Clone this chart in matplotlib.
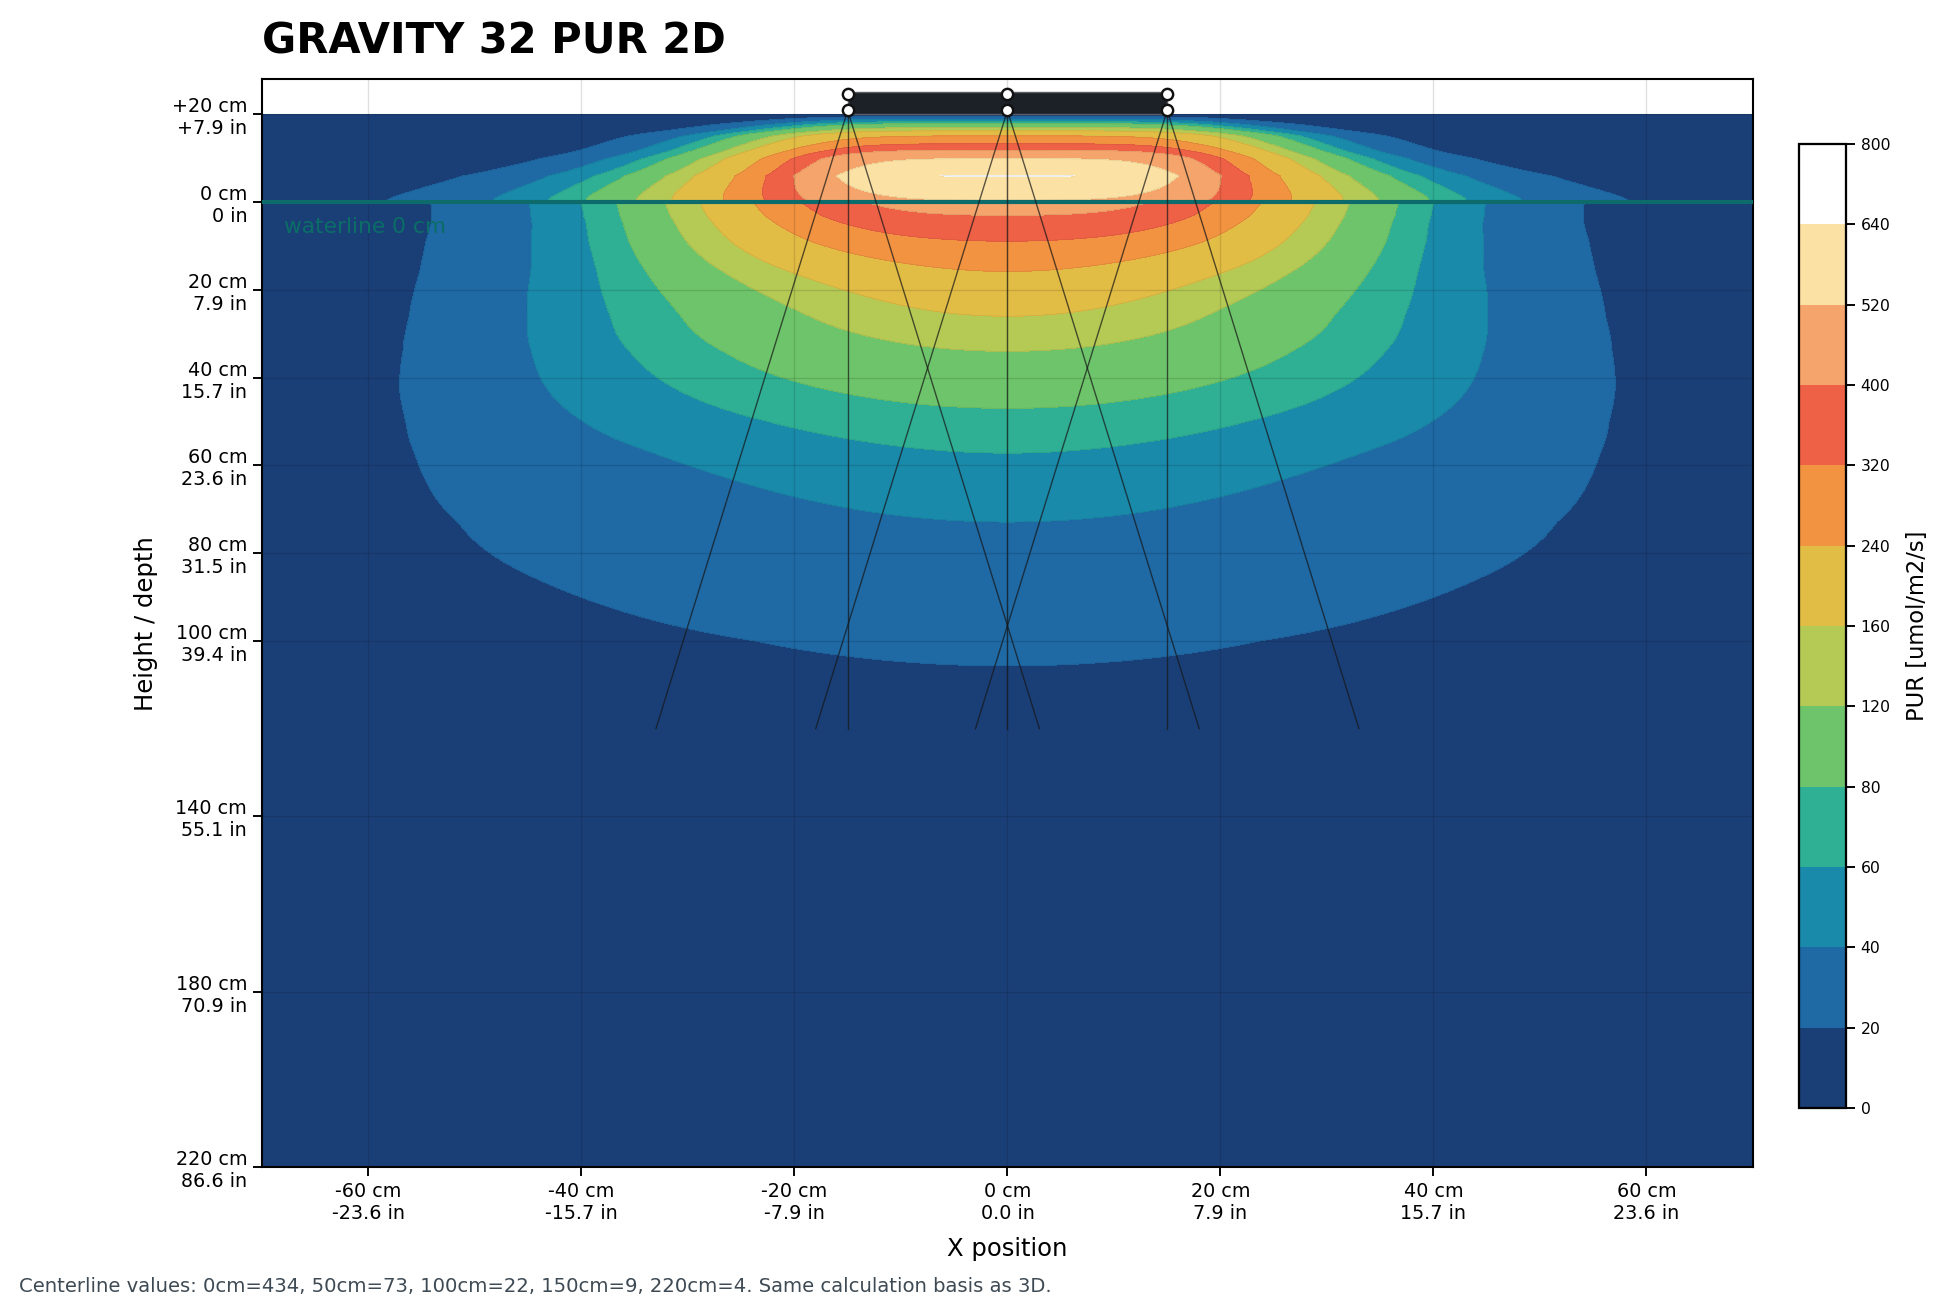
import numpy as np
import matplotlib
matplotlib.use("Agg")
import matplotlib.pyplot as plt
from matplotlib.patches import Rectangle

# ---------------- data ----------------
levels = [0, 20, 40, 60, 80, 120, 160, 240, 320, 400, 520, 640, 800]
band_colors = ["#1a3f77", "#1f69a5", "#1a8aaa", "#2fb095", "#6ec46a", "#b5c955",
               "#e2bd45", "#f19340", "#ee6146", "#f5a46b", "#fbe1a4", "#ffffff"]

# centre-line PUR above the water (depth in cm, negative = above water)
air_depth_cm = [-20, -19.5, -18.9, -18.35, -17.9, -17.0, -16.25, -15.1, -13.3, -11.8, -9.9, -6.0, -0.5, -0.02]
air_pur = [0, 20, 40, 60, 80, 120, 160, 240, 320, 400, 520, 643, 520, 510]
# centre-line PUR below the water
water_depth_cm = [0, 3, 8.9, 15.8, 26, 34, 47, 50, 57.2, 72.9, 100, 105.7, 150, 220]
water_pur = [434, 400, 320, 240, 160, 120, 80, 73, 60, 40, 22, 20, 9, 4]

air_shape_depth = [-20, -18.3, -15, -11.5, -6, -0.8, -0.02]
air_shape_a = [21, 21.3, 22.1, 22.3, 22.5, 25.6, 25.8]
air_shape_q = [6, 5, 5, 5, 4.2, 3.93, 3.9]
water_shape_depth = [0, 10, 20, 30, 40, 50, 60, 70, 80, 90, 100, 150, 220]
water_coef_x2 = [0, 5.08e-4, 1.25e-3, 7.45e-4, 5.214e-4, 3.99e-4, 4.39e-4, 3.85e-4, 2.95e-4, 2.3e-4, 1.72e-4, 1e-4, 5e-5]
water_coef_x4 = [2.517e-6, 1.3786e-6, 0, 0, 0, 0, 0, 0, 0, 0, 0, 0, 0]
water_coef_x6 = [0, 0, 1.653e-10, 1.01e-10, 6.23e-11, 4.06e-11, 1.53e-11, 3e-12, 0, 0, 0, 0, 0]

fixture_x = [-15, 0, 15]
fixture_top, fixture_bottom = -25.15, -20.2
node_rows = [-24.6, -20.9]
beam_offsets = [-18, 0, 18]
beam_end_depth = 120

x_ticks = [-60, -40, -20, 0, 20, 40, 60]
x_ticklabels = ["-60 cm\n-23.6 in", "-40 cm\n-15.7 in", "-20 cm\n-7.9 in", "0 cm\n0.0 in",
                "20 cm\n7.9 in", "40 cm\n15.7 in", "60 cm\n23.6 in"]
y_ticks = [-20, 0, 20, 40, 60, 80, 100, 140, 180, 220]
y_ticklabels = ["+20 cm\n+7.9 in", "0 cm\n0 in", "20 cm\n7.9 in", "40 cm\n15.7 in", "60 cm\n23.6 in",
                "80 cm\n31.5 in", "100 cm\n39.4 in", "140 cm\n55.1 in", "180 cm\n70.9 in",
                "220 cm\n86.6 in"]
cbar_ticks = levels

footer = ("Centerline values: 0cm=434, 50cm=73, 100cm=22, 150cm=9, 220cm=4. "
          "Same calculation basis as 3D.")

# ---------------- field on a grid ----------------
x = np.linspace(-70, 70, 561)
y_air = np.linspace(-20, -0.02, 600)
y_water = np.linspace(0, 220, 1101)


def smooth_interp(yv, d, vals, win_cm):
    dense = np.interp(yv, d, vals)
    step = yv[1] - yv[0]
    n = max(1, int(round(win_cm / step)))
    pad = np.concatenate([np.full(n, dense[0]), dense, np.full(n, dense[-1])])
    k = np.ones(n) / n
    return np.convolve(pad, k, mode="same")[n:-n]


V_air = np.interp(y_air, air_depth_cm, air_pur)
a_air = smooth_interp(y_air, air_shape_depth, air_shape_a, 2.0)[:, None]
q_air = smooth_interp(y_air, air_shape_depth, air_shape_q, 2.0)[:, None]
Z_air = V_air[:, None] / (1.0 + (np.abs(x)[None, :] / a_air) ** q_air)

V_w = np.exp(np.interp(y_water, water_depth_cm, np.log(water_pur)))
c2 = smooth_interp(y_water, water_shape_depth, water_coef_x2, 10.0)[:, None]
c4 = smooth_interp(y_water, water_shape_depth, water_coef_x4, 10.0)[:, None]
c6 = smooth_interp(y_water, water_shape_depth, water_coef_x6, 10.0)[:, None]
xx = x[None, :]
Z_water = V_w[:, None] / (1.0 + c2 * xx ** 2 + c4 * xx ** 4 + c6 * xx ** 6)

Z = np.vstack([Z_air, Z_water])
Y = np.concatenate([y_air, y_water])

# ---------------- figure ----------------
fig = plt.figure(figsize=(1946 / 125, 1309 / 125), dpi=125)
ax = fig.add_axes([0.1346, 0.1082, 0.9008 - 0.1346, 0.9394 - 0.1082])

cs = ax.contourf(x, Y, Z, levels=levels, colors=band_colors, zorder=1)
ax.contour(x, Y, Z, levels=levels[1:-1], colors="#000000", linewidths=0.3, alpha=0.12, zorder=1.2)

ax.set_xlim(-70, 70)
ax.set_ylim(220, -28)

ax.grid(True, color="#000000", alpha=0.12, lw=0.8)
ax.set_xticks(x_ticks)
ax.set_xticklabels(x_ticklabels, fontsize=11)
ax.set_yticks(y_ticks)
ax.set_yticklabels(y_ticklabels, fontsize=11, ha="right")
for lab in ax.get_yticklabels():
    lab.set_multialignment("right")
for lab in ax.get_xticklabels():
    lab.set_multialignment("center")
ax.tick_params(length=5, width=1.1)
for s in ax.spines.values():
    s.set_linewidth(1.2)

# waterline
ax.axhline(0, color="#0d6b6b", lw=2.4, zorder=4)
ax.text(-67.9, 5.6, "waterline 0 cm", color="#0b6e66", fontsize=12.5, va="center", ha="left", zorder=5)

# beam lines
for xs in fixture_x:
    for off in beam_offsets:
        ax.plot([xs, xs + off], [node_rows[1], beam_end_depth], color="#161616", lw=0.8, alpha=0.7, zorder=4)

# fixture
ax.add_patch(Rectangle((fixture_x[0], fixture_top), fixture_x[-1] - fixture_x[0],
                       fixture_bottom - fixture_top, fc="#1b2127", ec="#5a5f64", lw=0.8, zorder=5))
for row in node_rows:
    ax.plot(fixture_x, [row] * len(fixture_x), "o", ms=6.5, mfc="white", mec="#111111", mew=1.4,
            zorder=6, clip_on=False)

ax.set_title("GRAVITY 32 PUR 2D", loc="left", fontsize=24, fontweight="bold", pad=15)
ax.set_xlabel("X position", fontsize=14, labelpad=8)
ax.set_ylabel("Height / depth", fontsize=14, labelpad=8)

cax = fig.add_axes([0.9243, 0.1536, 0.0243, 0.7364])
cb = fig.colorbar(cs, cax=cax, ticks=cbar_ticks)
cb.ax.tick_params(labelsize=9, length=5, width=1.1)
cb.set_label("PUR [umol/m2/s]", fontsize=13, labelpad=9)
cb.outline.set_linewidth(1.3)

fig.text(19 / 1946, 1 - 1286 / 1309, footer, fontsize=11.3, color="#3e4a54", va="center", ha="left")

fig.savefig("out.png", dpi=125)
